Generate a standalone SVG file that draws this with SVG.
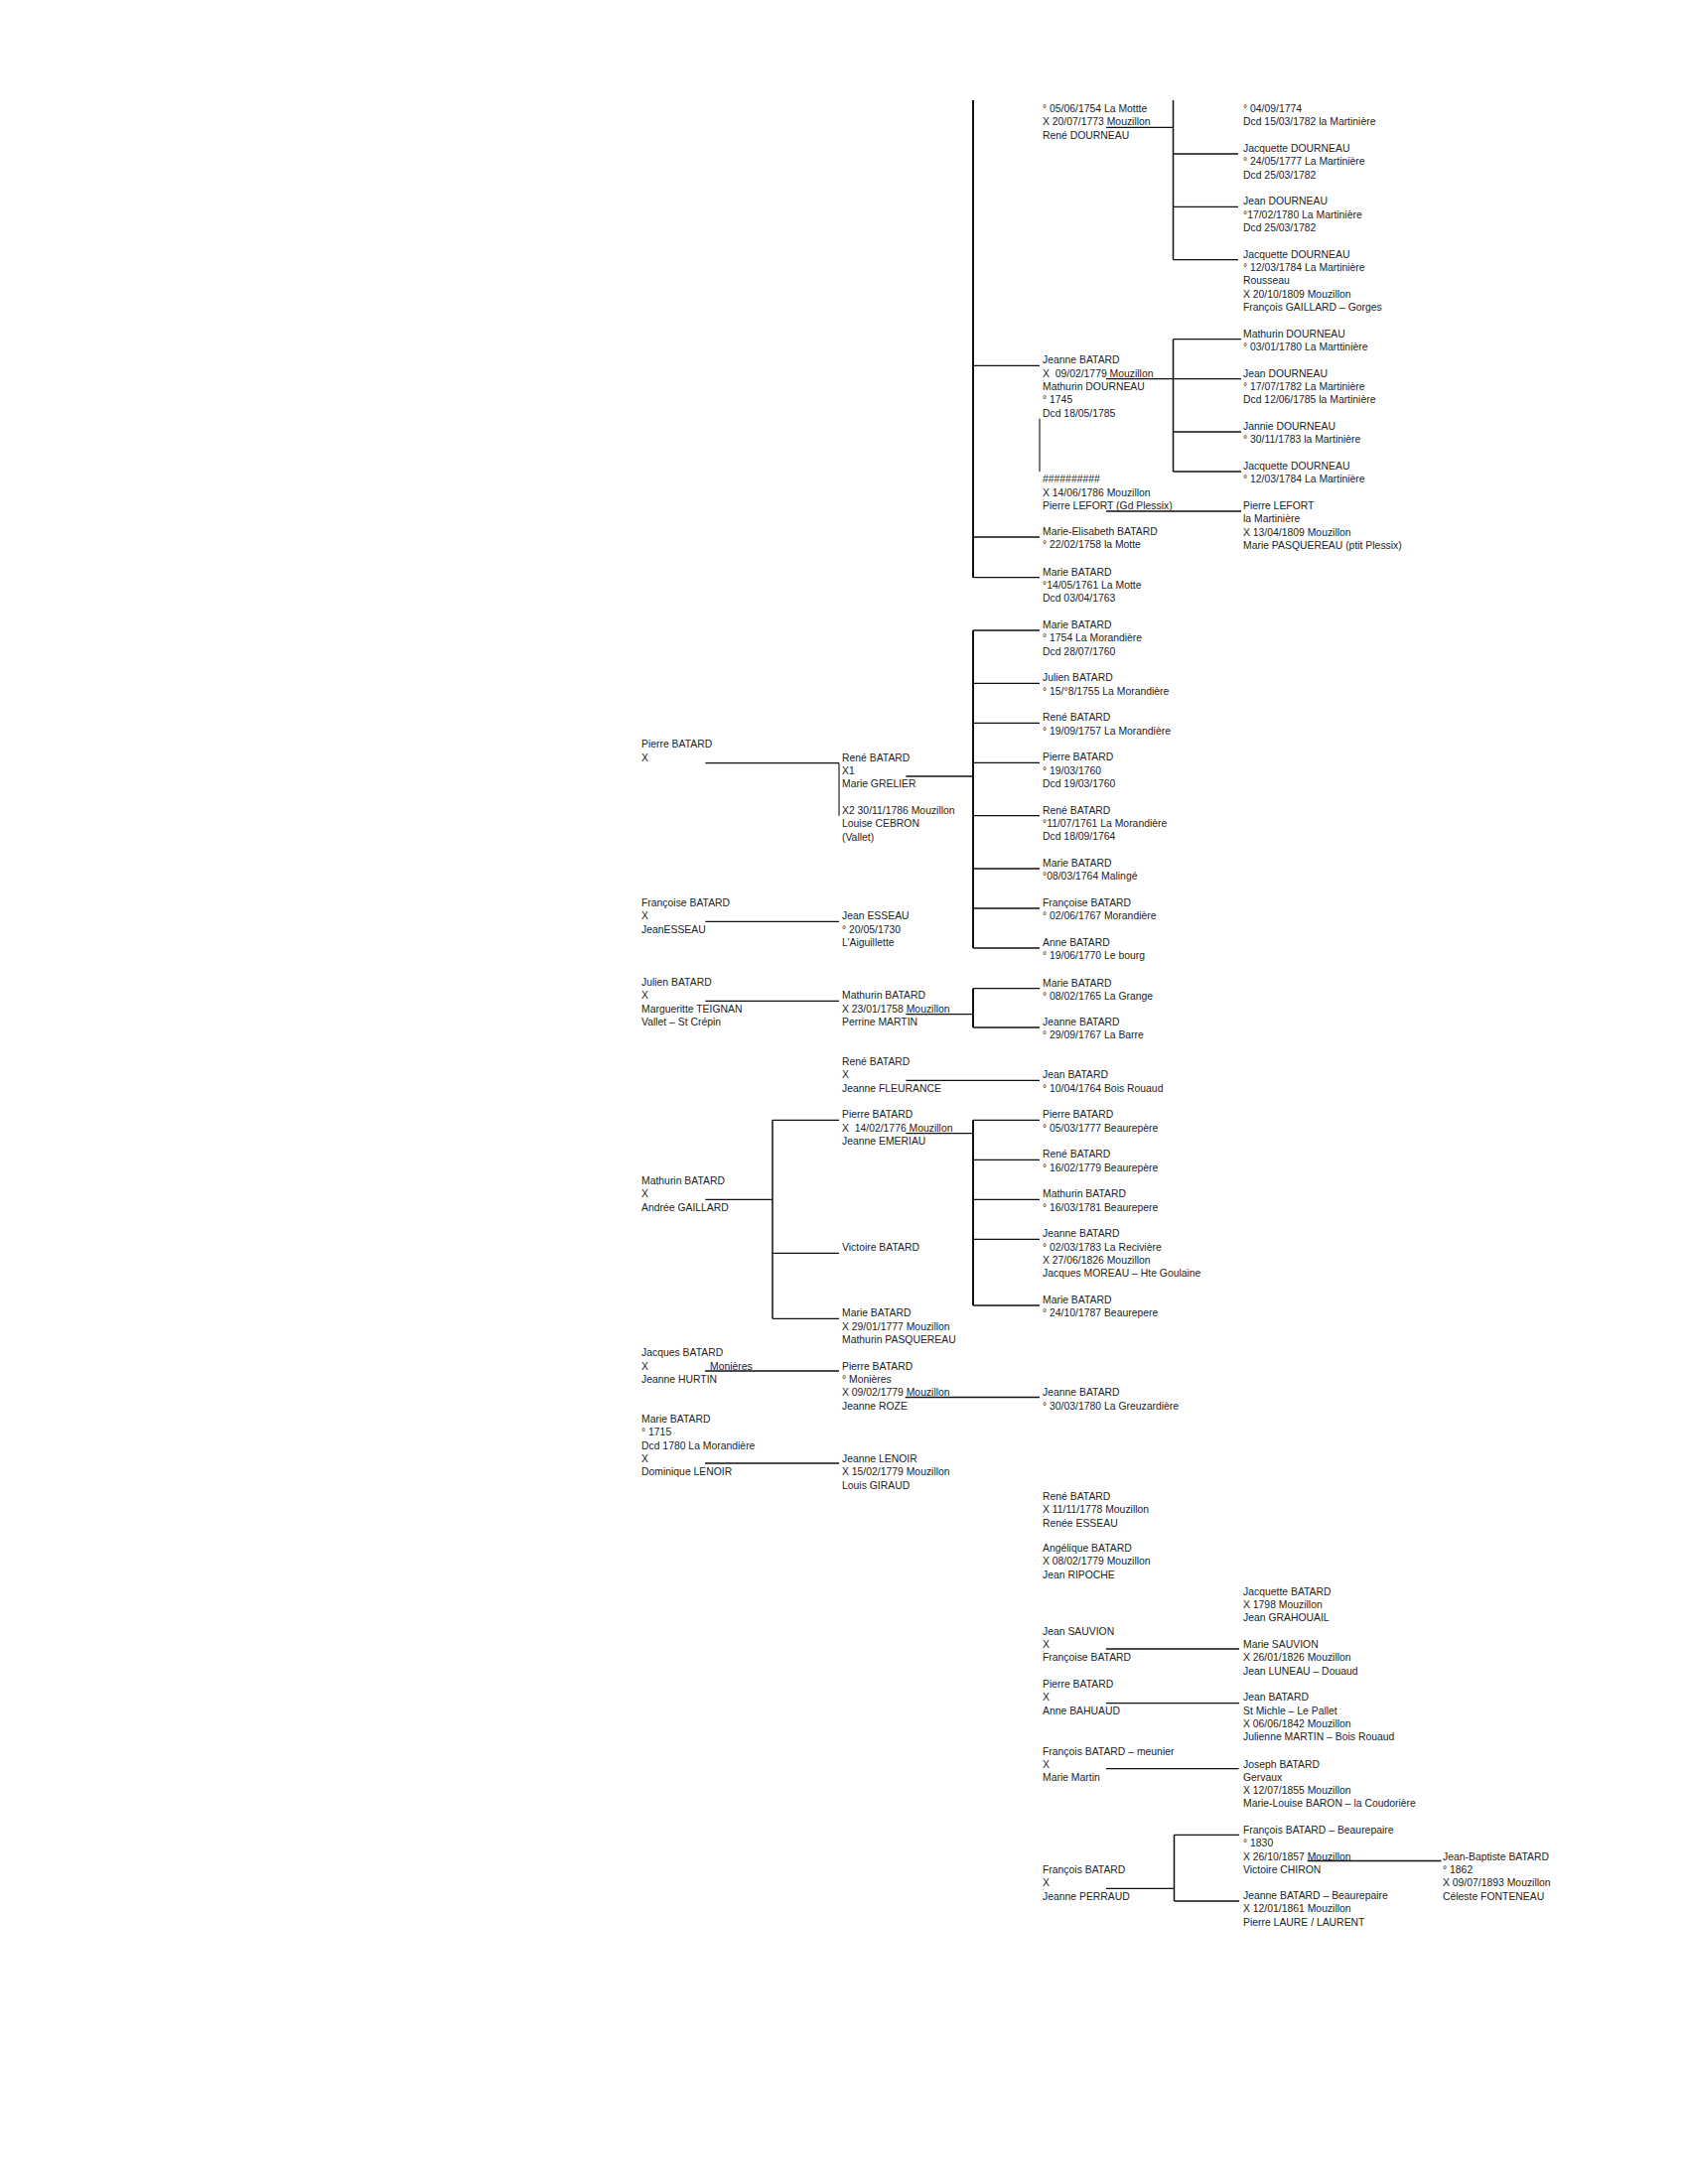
<svg xmlns="http://www.w3.org/2000/svg" width="1700" height="2200" viewBox="0 0 1700 2200">
<style>
text{font-family:"Liberation Sans",Arial,sans-serif;font-size:10.4px;fill:#222;white-space:pre}
.h{stroke:#111;stroke-width:1.3;fill:none}
.v{stroke:#111;stroke-width:2;fill:none}
.m{stroke:#111;stroke-width:1.5;fill:none}
.s{stroke:#111;stroke-width:1.1;fill:none}
</style>
<rect width="1700" height="2200" fill="#fff"/>
<g id="connectors">
<path class="v" d="M980,101V582M980,635V955M980,995.7V1035M980,1128.3V1315"/>
<path class="m" d="M1181.5,101V261.7M1181.5,341.7V475M778,1128.3V1328.3M1182.5,1848.3V1915"/>
<path class="s" d="M845,768.7V821.7M1047,421.7V475"/>
<path class="h" d="M1114,128.3H1181.5M1181.5,155H1247M1181.5,208.3H1247M1181.5,261.7H1247
M980,368.3H1047M1114,381.7H1250M1181.5,341.7H1250M1181.5,435H1250M1181.5,475H1250M1114,515H1250
M980,541H1047M980,581.7H1047
M980,635H1047M980,688.3H1047M980,728.3H1047M980,768.3H1047M980,821.7H1047M980,875H1047M980,915H1047M980,955H1047
M710.4,768.7H845M912.4,782H980M710.4,928.3H845
M710.4,1008.3H845M912.4,1021.7H980M980,995.7H1047M980,1035H1047
M912.4,1088.3H1047
M710.4,1208.3H778M778,1128.3H845M778,1262.3H845M778,1328.3H845
M912.4,1141.7H980M980,1128.3H1047M980,1168.3H1047M980,1208.3H1047M980,1248.3H1047M980,1315H1047
M710,1381H845M911.7,1407.5H1047M710,1474H845
M1114,1661H1248M1114,1715.7H1248M1114,1781.7H1247.5
M1114,1902.3H1182.5M1182.5,1848.3H1248M1182.5,1915H1248M1316.7,1874.5H1451.5"/>
</g>
<g id="n-top"><text x="1050" y="113"><tspan x="1050">° 05/06/1754 La Mottte</tspan><tspan x="1050" dy="13.33">X 20/07/1773 Mouzillon</tspan><tspan x="1050" dy="13.33">René DOURNEAU</tspan></text></g>
<g id="n-c1"><text x="1252" y="113"><tspan x="1252">° 04/09/1774</tspan><tspan x="1252" dy="13.33">Dcd 15/03/1782 la Martinière</tspan></text></g>
<g id="n-c2"><text x="1252" y="153"><tspan x="1252">Jacquette DOURNEAU</tspan><tspan x="1252" dy="13.33">° 24/05/1777 La Martinière</tspan><tspan x="1252" dy="13.33">Dcd 25/03/1782</tspan></text></g>
<g id="n-c3"><text x="1252" y="206.3"><tspan x="1252">Jean DOURNEAU</tspan><tspan x="1252" dy="13.33">°17/02/1780 La Martinière</tspan><tspan x="1252" dy="13.33">Dcd 25/03/1782</tspan></text></g>
<g id="n-c4"><text x="1252" y="259.7"><tspan x="1252">Jacquette DOURNEAU</tspan><tspan x="1252" dy="13.33">° 12/03/1784 La Martinière</tspan><tspan x="1252" dy="13.33">Rousseau</tspan><tspan x="1252" dy="13.33">X 20/10/1809 Mouzillon</tspan><tspan x="1252" dy="13.33">François GAILLARD – Gorges</tspan></text></g>
<g id="n-jeanne"><text x="1050" y="366.3"><tspan x="1050">Jeanne BATARD</tspan><tspan x="1050" dy="13.33">X  09/02/1779 Mouzillon</tspan><tspan x="1050" dy="13.33">Mathurin DOURNEAU</tspan><tspan x="1050" dy="13.33">° 1745</tspan><tspan x="1050" dy="13.33">Dcd 18/05/1785</tspan></text></g>
<g id="n-d1"><text x="1252" y="339.7"><tspan x="1252">Mathurin DOURNEAU</tspan><tspan x="1252" dy="13.33">° 03/01/1780 La Marttinière</tspan></text></g>
<g id="n-d2"><text x="1252" y="379.7"><tspan x="1252">Jean DOURNEAU</tspan><tspan x="1252" dy="13.33">° 17/07/1782 La Martinière</tspan><tspan x="1252" dy="13.33">Dcd 12/06/1785 la Martinière</tspan></text></g>
<g id="n-d3"><text x="1252" y="433"><tspan x="1252">Jannie DOURNEAU</tspan><tspan x="1252" dy="13.33">° 30/11/1783 la Martinière</tspan></text></g>
<g id="n-d4"><text x="1252" y="473"><tspan x="1252">Jacquette DOURNEAU</tspan><tspan x="1252" dy="13.33">° 12/03/1784 La Martinière</tspan></text></g>
<g id="n-lefort1"><text x="1050" y="486.3"><tspan x="1050">##########</tspan><tspan x="1050" dy="13.33">X 14/06/1786 Mouzillon</tspan><tspan x="1050" dy="13.33">Pierre LEFORT (Gd Plessix)</tspan></text></g>
<g id="n-lefort2"><text x="1252" y="513"><tspan x="1252">Pierre LEFORT</tspan><tspan x="1252" dy="13.33">la Martinière</tspan><tspan x="1252" dy="13.33">X 13/04/1809 Mouzillon</tspan><tspan x="1252" dy="13.33">Marie PASQUEREAU (ptit Plessix)</tspan></text></g>
<g id="n-melisabeth"><text x="1050" y="539"><tspan x="1050">Marie-Elisabeth BATARD</tspan><tspan x="1050" dy="13.33">° 22/02/1758 la Motte</tspan></text></g>
<g id="n-marie1761"><text x="1050" y="579.7"><tspan x="1050">Marie BATARD</tspan><tspan x="1050" dy="13.33">°14/05/1761 La Motte</tspan><tspan x="1050" dy="13.33">Dcd 03/04/1763</tspan></text></g>
<g id="n-r1"><text x="1050" y="633"><tspan x="1050">Marie BATARD</tspan><tspan x="1050" dy="13.33">° 1754 La Morandière</tspan><tspan x="1050" dy="13.33">Dcd 28/07/1760</tspan></text></g>
<g id="n-r2"><text x="1050" y="686.3"><tspan x="1050">Julien BATARD</tspan><tspan x="1050" dy="13.33">° 15/°8/1755 La Morandière</tspan></text></g>
<g id="n-r3"><text x="1050" y="726.3"><tspan x="1050">René BATARD</tspan><tspan x="1050" dy="13.33">° 19/09/1757 La Morandière</tspan></text></g>
<g id="n-r4"><text x="1050" y="766.3"><tspan x="1050">Pierre BATARD</tspan><tspan x="1050" dy="13.33">° 19/03/1760</tspan><tspan x="1050" dy="13.33">Dcd 19/03/1760</tspan></text></g>
<g id="n-r5"><text x="1050" y="819.7"><tspan x="1050">René BATARD</tspan><tspan x="1050" dy="13.33">°11/07/1761 La Morandière</tspan><tspan x="1050" dy="13.33">Dcd 18/09/1764</tspan></text></g>
<g id="n-r6"><text x="1050" y="873"><tspan x="1050">Marie BATARD</tspan><tspan x="1050" dy="13.33">°08/03/1764 Malingé</tspan></text></g>
<g id="n-r7"><text x="1050" y="913"><tspan x="1050">Françoise BATARD</tspan><tspan x="1050" dy="13.33">° 02/06/1767 Morandière</tspan></text></g>
<g id="n-r8"><text x="1050" y="953"><tspan x="1050">Anne BATARD</tspan><tspan x="1050" dy="13.33">° 19/06/1770 Le bourg</tspan></text></g>
<g id="n-pierre-g"><text x="646" y="753.3"><tspan x="646">Pierre BATARD</tspan><tspan x="646" dy="13.33">X</tspan></text></g>
<g id="n-rene"><text x="848" y="766.7"><tspan x="848">René BATARD</tspan><tspan x="848" dy="13.33">X1</tspan><tspan x="848" dy="13.33">Marie GRELIER</tspan><tspan x="848" dy="26.67">X2 30/11/1786 Mouzillon</tspan><tspan x="848" dy="13.33">Louise CEBRON</tspan><tspan x="848" dy="13.33">(Vallet)</tspan></text></g>
<g id="n-francoise-g"><text x="646" y="913"><tspan x="646">Françoise BATARD</tspan><tspan x="646" dy="13.33">X</tspan><tspan x="646" dy="13.33">JeanESSEAU</tspan></text></g>
<g id="n-jean-esseau"><text x="848" y="926.3"><tspan x="848">Jean ESSEAU</tspan><tspan x="848" dy="13.33">° 20/05/1730</tspan><tspan x="848" dy="13.33">L’Aiguillette</tspan></text></g>
<g id="n-julien-g"><text x="646" y="993"><tspan x="646">Julien BATARD</tspan><tspan x="646" dy="13.33">X</tspan><tspan x="646" dy="13.33">Margueritte TEIGNAN</tspan><tspan x="646" dy="13.33">Vallet – St Crépin</tspan></text></g>
<g id="n-mathurin"><text x="848" y="1006.3"><tspan x="848">Mathurin BATARD</tspan><tspan x="848" dy="13.33">X 23/01/1758 Mouzillon</tspan><tspan x="848" dy="13.33">Perrine MARTIN</tspan></text></g>
<g id="n-m1"><text x="1050" y="993.7"><tspan x="1050">Marie BATARD</tspan><tspan x="1050" dy="13.33">° 08/02/1765 La Grange</tspan></text></g>
<g id="n-m2"><text x="1050" y="1033"><tspan x="1050">Jeanne BATARD</tspan><tspan x="1050" dy="13.33">° 29/09/1767 La Barre</tspan></text></g>
<g id="n-rene-f"><text x="848" y="1073"><tspan x="848">René BATARD</tspan><tspan x="848" dy="13.33">X</tspan><tspan x="848" dy="13.33">Jeanne FLEURANCE</tspan></text></g>
<g id="n-jean-br"><text x="1050" y="1086.3"><tspan x="1050">Jean BATARD</tspan><tspan x="1050" dy="13.33">° 10/04/1764 Bois Rouaud</tspan></text></g>
<g id="n-mathurin-g"><text x="646" y="1193"><tspan x="646">Mathurin BATARD</tspan><tspan x="646" dy="13.33">X</tspan><tspan x="646" dy="13.33">Andrée GAILLARD</tspan></text></g>
<g id="n-pierre-e"><text x="848" y="1126.3"><tspan x="848">Pierre BATARD</tspan><tspan x="848" dy="13.33">X  14/02/1776 Mouzillon</tspan><tspan x="848" dy="13.33">Jeanne EMERIAU</tspan></text></g>
<g id="n-p1"><text x="1050" y="1126.3"><tspan x="1050">Pierre BATARD</tspan><tspan x="1050" dy="13.33">° 05/03/1777 Beaurepère</tspan></text></g>
<g id="n-p2"><text x="1050" y="1166.3"><tspan x="1050">René BATARD</tspan><tspan x="1050" dy="13.33">° 16/02/1779 Beaurepère</tspan></text></g>
<g id="n-p3"><text x="1050" y="1206.3"><tspan x="1050">Mathurin BATARD</tspan><tspan x="1050" dy="13.33">° 16/03/1781 Beaurepere</tspan></text></g>
<g id="n-p4"><text x="1050" y="1246.3"><tspan x="1050">Jeanne BATARD</tspan><tspan x="1050" dy="13.33">° 02/03/1783 La Recivière</tspan><tspan x="1050" dy="13.33">X 27/06/1826 Mouzillon</tspan><tspan x="1050" dy="13.33">Jacques MOREAU – Hte Goulaine</tspan></text></g>
<g id="n-p5"><text x="1050" y="1313"><tspan x="1050">Marie BATARD</tspan><tspan x="1050" dy="13.33">° 24/10/1787 Beaurepere</tspan></text></g>
<g id="n-victoire"><text x="848" y="1260.3">Victoire BATARD</text></g>
<g id="n-marie-pasq"><text x="848" y="1326.3"><tspan x="848">Marie BATARD</tspan><tspan x="848" dy="13.33">X 29/01/1777 Mouzillon</tspan><tspan x="848" dy="13.33">Mathurin PASQUEREAU</tspan></text></g>
<g id="n-jacques-g"><text x="646" y="1366.3"><tspan x="646">Jacques BATARD</tspan><tspan x="646" dy="13.33">X</tspan><tspan x="646" dy="13.33">Jeanne HURTIN</tspan></text><text x="715" y="1379.7">Monières</text></g>
<g id="n-pierre-roze"><text x="848" y="1379.7"><tspan x="848">Pierre BATARD</tspan><tspan x="848" dy="13.33">° Monières</tspan><tspan x="848" dy="13.33">X 09/02/1779 Mouzillon</tspan><tspan x="848" dy="13.33">Jeanne ROZE</tspan></text></g>
<g id="n-jeanne-greu"><text x="1050" y="1406.3"><tspan x="1050">Jeanne BATARD</tspan><tspan x="1050" dy="13.33">° 30/03/1780 La Greuzardière</tspan></text></g>
<g id="n-marie-g"><text x="646" y="1433"><tspan x="646">Marie BATARD</tspan><tspan x="646" dy="13.33">° 1715</tspan><tspan x="646" dy="13.33">Dcd 1780 La Morandière</tspan><tspan x="646" dy="13.33">X</tspan><tspan x="646" dy="13.33">Dominique LENOIR</tspan></text></g>
<g id="n-jeanne-lenoir"><text x="848" y="1473"><tspan x="848">Jeanne LENOIR</tspan><tspan x="848" dy="13.33">X 15/02/1779 Mouzillon</tspan><tspan x="848" dy="13.33">Louis GIRAUD</tspan></text></g>
<g id="n-rene-esseau"><text x="1050" y="1511"><tspan x="1050">René BATARD</tspan><tspan x="1050" dy="13.33">X 11/11/1778 Mouzillon</tspan><tspan x="1050" dy="13.33">Renée ESSEAU</tspan></text></g>
<g id="n-angelique"><text x="1050" y="1563"><tspan x="1050">Angélique BATARD</tspan><tspan x="1050" dy="13.33">X 08/02/1779 Mouzillon</tspan><tspan x="1050" dy="13.33">Jean RIPOCHE</tspan></text></g>
<g id="n-jacquette-b"><text x="1252" y="1606.5"><tspan x="1252">Jacquette BATARD</tspan><tspan x="1252" dy="13.33">X 1798 Mouzillon</tspan><tspan x="1252" dy="13.33">Jean GRAHOUAIL</tspan></text></g>
<g id="n-sauvion"><text x="1050" y="1646.5"><tspan x="1050">Jean SAUVION</tspan><tspan x="1050" dy="13.33">X</tspan><tspan x="1050" dy="13.33">Françoise BATARD</tspan></text></g>
<g id="n-marie-sauvion"><text x="1252" y="1660"><tspan x="1252">Marie SAUVION</tspan><tspan x="1252" dy="13.33">X 26/01/1826 Mouzillon</tspan><tspan x="1252" dy="13.33">Jean LUNEAU – Douaud</tspan></text></g>
<g id="n-pierre-bahuaud"><text x="1050" y="1700"><tspan x="1050">Pierre BATARD</tspan><tspan x="1050" dy="13.33">X</tspan><tspan x="1050" dy="13.33">Anne BAHUAUD</tspan></text></g>
<g id="n-jean-pallet"><text x="1252" y="1713.3"><tspan x="1252">Jean BATARD</tspan><tspan x="1252" dy="13.33">St Michle – Le Pallet</tspan><tspan x="1252" dy="13.33">X 06/06/1842 Mouzillon</tspan><tspan x="1252" dy="13.33">Julienne MARTIN – Bois Rouaud</tspan></text></g>
<g id="n-francois-meunier"><text x="1050" y="1767.5"><tspan x="1050">François BATARD – meunier</tspan><tspan x="1050" dy="13.33">X</tspan><tspan x="1050" dy="13.33">Marie Martin</tspan></text></g>
<g id="n-joseph"><text x="1252" y="1780.5"><tspan x="1252">Joseph BATARD</tspan><tspan x="1252" dy="13.33">Gervaux</tspan><tspan x="1252" dy="13.33">X 12/07/1855 Mouzillon</tspan><tspan x="1252" dy="13.33">Marie-Louise BARON – la Coudorière</tspan></text></g>
<g id="n-francois-b"><text x="1252" y="1847"><tspan x="1252">François BATARD – Beaurepaire</tspan><tspan x="1252" dy="13.33">° 1830</tspan><tspan x="1252" dy="13.33">X 26/10/1857 Mouzillon</tspan><tspan x="1252" dy="13.33">Victoire CHIRON</tspan></text></g>
<g id="n-jean-baptiste"><text x="1453" y="1873.7"><tspan x="1453">Jean-Baptiste BATARD</tspan><tspan x="1453" dy="13.33">° 1862</tspan><tspan x="1453" dy="13.33">X 09/07/1893 Mouzillon</tspan><tspan x="1453" dy="13.33">Céleste FONTENEAU</tspan></text></g>
<g id="n-francois-perraud"><text x="1050" y="1887"><tspan x="1050">François BATARD</tspan><tspan x="1050" dy="13.33">X</tspan><tspan x="1050" dy="13.33">Jeanne PERRAUD</tspan></text></g>
<g id="n-jeanne-b"><text x="1252" y="1913"><tspan x="1252">Jeanne BATARD – Beaurepaire</tspan><tspan x="1252" dy="13.33">X 12/01/1861 Mouzillon</tspan><tspan x="1252" dy="13.33">Pierre LAURE / LAURENT</tspan></text></g>
</svg>
